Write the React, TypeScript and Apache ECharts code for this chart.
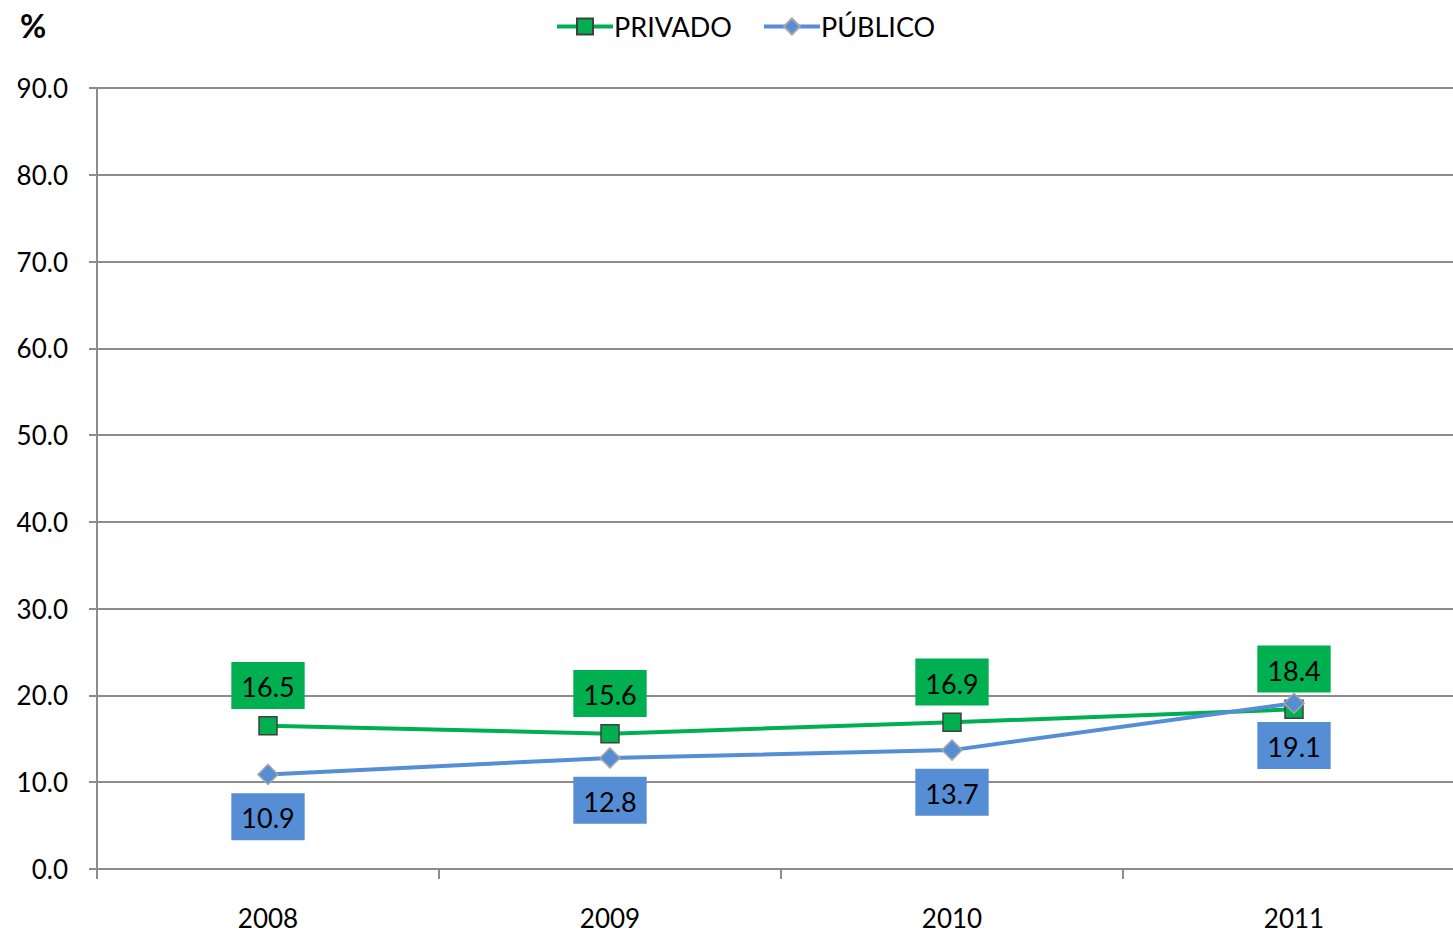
import React, { useEffect, useRef } from "react";
import * as echarts from "echarts";

const categories = ["2008", "2009", "2010", "2011"];
const privado = [16.5, 15.6, 16.9, 18.4];
const publico = [10.9, 12.8, 13.7, 19.1];
const seriesNames = ["PRIVADO", "PÚBLICO"];

const FONT = "Lato, 'Liberation Sans', sans-serif";

export default function App() {
  const ref = useRef<HTMLDivElement>(null);
  useEffect(() => {
    if (!ref.current) return;
    const chart = echarts.init(ref.current, undefined, { renderer: "svg" });
    chart.setOption({
      animation: false,
      backgroundColor: "#ffffff",
      textStyle: { fontFamily: FONT },
      graphic: [
        {
          type: "text",
          left: 20,
          top: 9,
          style: { text: "%", font: `bold 32px ${FONT}`, fill: "#000" },
        },
      ],
      legend: {
        top: 8,
        left: 550,
        itemWidth: 56,
        itemHeight: 20,
        itemGap: 30,
        lineStyle: { width: 4 },
        textStyle: { fontSize: 27, color: "#000", fontFamily: FONT, padding: [0, 0, 0, -4] },
        data: seriesNames,
      },
      grid: {
        left: 97,
        top: 88,
        width: 1368,
        height: 781,
        containLabel: false,
        outerBoundsMode: "none",
      },
      xAxis: {
        type: "category",
        data: categories,
        boundaryGap: true,
        axisLine: { lineStyle: { color: "#8C8C8C", width: 2 } },
        axisTick: { show: true, length: 10, lineStyle: { color: "#8C8C8C", width: 2 } },
        axisLabel: {
          color: "#000",
          fontSize: 26,
          lineHeight: 26,
          margin: 36,
          fontFamily: FONT,
        },
        splitLine: { show: false },
      },
      yAxis: {
        type: "value",
        min: 0,
        max: 90,
        interval: 10,
        axisLine: { show: true, lineStyle: { color: "#8C8C8C", width: 2 } },
        axisTick: { show: true, length: 8, lineStyle: { color: "#8C8C8C", width: 2 } },
        axisLabel: {
          color: "#000",
          fontSize: 26,
          margin: 29,
          fontFamily: FONT,
          formatter: (v: number) => v.toFixed(1),
        },
        splitLine: { show: true, lineStyle: { color: "#8C8C8C", width: 2 } },
      },
      series: [
        {
          name: seriesNames[0],
          type: "line",
          data: privado,
          symbol: "rect",
          symbolSize: 18,
          lineStyle: { color: "#00B050", width: 4 },
          itemStyle: { color: "#00B050", borderColor: "#404040", borderWidth: 1.5 },
          label: {
            show: true,
            position: "top",
            distance: 7,
            color: "#000",
            fontSize: 27,
            fontFamily: FONT,
            backgroundColor: "#00B050",
            padding: [11, 10, 9, 10],
            formatter: (p: any) => p.value.toFixed(1),
          },
          z: 2,
        },
        {
          name: seriesNames[1],
          type: "line",
          data: publico,
          symbol: "diamond",
          symbolSize: 20,
          lineStyle: { color: "#558ED5", width: 4 },
          itemStyle: { color: "#558ED5", borderColor: "#A6A6A6", borderWidth: 1.5 },
          label: {
            show: true,
            position: "bottom",
            distance: 8,
            color: "#000",
            fontSize: 27,
            fontFamily: FONT,
            backgroundColor: "#558ED5",
            padding: [11, 10, 9, 10],
            formatter: (p: any) => p.value.toFixed(1),
          },
          z: 3,
        },
      ],
    });
    return () => chart.dispose();
  }, []);
  return (
    <div
      ref={ref}
      style={{ position: "fixed", left: 0, top: 0, width: 1453, height: 933 }}
    />
  );
}
